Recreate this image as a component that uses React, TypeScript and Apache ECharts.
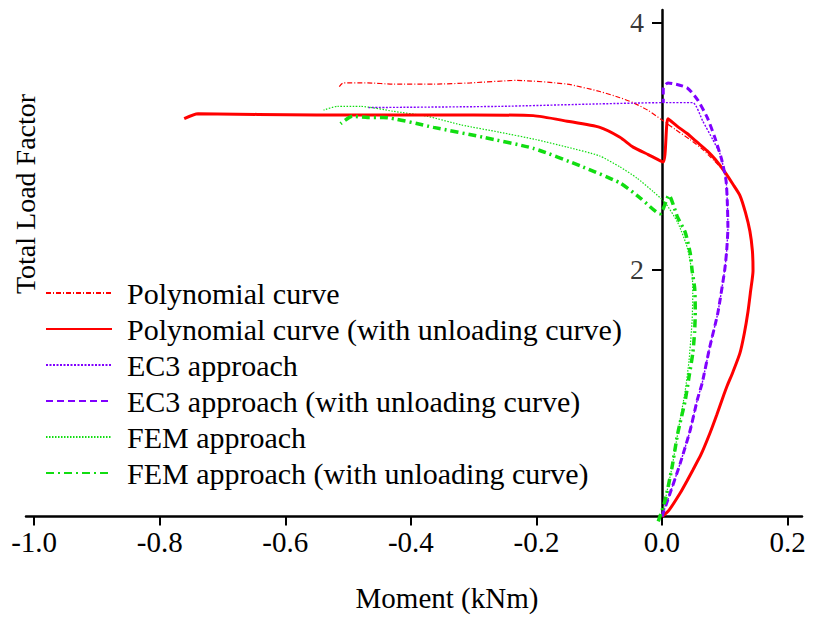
import React, { useEffect, useRef } from "react";
import * as echarts from "echarts";

type Pt = [number, number];

// Tick positions on the two axes
const xTicks = [-1.0, -0.8, -0.6, -0.4, -0.2, 0.0, 0.2];
const yTicks = [2, 4];

const seriesNames = [
  "Polynomial curve",
  "Polynomial curve (with unloading curve)",
  "EC3 approach",
  "EC3 approach (with unloading curve)",
  "FEM approach",
  "FEM approach (with unloading curve)",
];

// Polynomial model: common loading branch (moment, load factor)
const polyLoading: Pt[] = [
  [0, 0], [0.011, 0.05], [0.029, 0.19], [0.04, 0.29], [0.049, 0.375], [0.062, 0.5],
  [0.076, 0.67], [0.087, 0.82], [0.096, 0.95], [0.104, 1.06], [0.113, 1.17],
  [0.124, 1.32], [0.131, 1.48], [0.137, 1.66], [0.141, 1.82], [0.145, 1.99],
  [0.144, 2.15], [0.14, 2.31], [0.133, 2.46], [0.124, 2.6], [0.113, 2.69], [0.1, 2.79],
];
// Polynomial model without unloading
const polyUpper: Pt[] = [
  [0.083, 2.88], [0.065, 2.97], [0.045, 3.05], [0.022, 3.13], [0, 3.21],
  [-0.023, 3.29], [-0.046, 3.35], [-0.067, 3.39], [-0.099, 3.44], [-0.151, 3.5],
  [-0.231, 3.53], [-0.305, 3.51], [-0.364, 3.5], [-0.428, 3.5], [-0.469, 3.51],
  [-0.508, 3.51], [-0.514, 3.48],
];
// Polynomial model with unloading
const polyUnload: Pt[] = [
  [0.085, 2.89], [0.072, 2.96], [0.056, 3.03], [0.04, 3.1], [0.024, 3.16],
  [0.0095, 3.22], [0.002, 2.87], [-0.022, 2.93], [-0.046, 2.99], [-0.067, 3.07],
  [-0.099, 3.15], [-0.151, 3.2], [-0.205, 3.245], [-0.3, 3.25], [-0.417, 3.25],
  [-0.55, 3.25], [-0.739, 3.26], [-0.761, 3.22],
];

// EC3 approach: common loading branch
const ec3Loading: Pt[] = [
  [0, 0], [0.013, 0.19], [0.029, 0.43], [0.045, 0.7], [0.056, 0.94], [0.064, 1.08],
  [0.076, 1.37], [0.089, 1.65], [0.1, 2.0], [0.103, 2.15], [0.105, 2.34],
  [0.104, 2.55], [0.102, 2.72], [0.095, 2.89],
];
const ec3Upper: Pt[] = [
  [0.092, 2.94], [0.081, 3.05], [0.065, 3.2], [0.049, 3.35], [0.002, 3.35],
  [-0.1, 3.34], [-0.258, 3.32], [-0.469, 3.31],
];
const ec3Unload: Pt[] = [
  [0.084, 3.07], [0.072, 3.23], [0.057, 3.37], [0.04, 3.47], [0.0095, 3.51],
  [0.002, 3.47], [0.002, 3.35],
];

// FEM approach
const femCurve: Pt[] = [
  [0, 0], [0.005, 0.13], [0.016, 0.4], [0.025, 0.67], [0.037, 1.02], [0.043, 1.26],
  [0.048, 1.59], [0.049, 1.8], [0.048, 1.97], [0.04, 2.18], [0.025, 2.38],
  [0.005, 2.54], [-0.014, 2.63], [-0.04, 2.74], [-0.067, 2.83], [-0.1, 2.92],
  [-0.151, 2.99], [-0.2, 3.05], [-0.258, 3.11], [-0.32, 3.17], [-0.374, 3.24],
  [-0.428, 3.28], [-0.48, 3.32], [-0.517, 3.32], [-0.539, 3.29],
];
const femUnload: Pt[] = [
  [-0.006, -0.04], [0.005, 0.13], [0.016, 0.4], [0.025, 0.67], [0.037, 0.94],
  [0.043, 1.13], [0.049, 1.32], [0.052, 1.5], [0.053, 1.67], [0.052, 1.85],
  [0.048, 1.99], [0.045, 2.13], [0.037, 2.3], [0.025, 2.42], [0.011, 2.6],
  [-0.003, 2.45], [-0.035, 2.58], [-0.067, 2.7], [-0.126, 2.83], [-0.205, 2.98],
  [-0.285, 3.07], [-0.364, 3.15], [-0.444, 3.23], [-0.469, 3.23], [-0.493, 3.24],
  [-0.512, 3.18],
];

const seriesData: Pt[][] = [
  [...polyLoading, ...polyUpper],
  [...polyLoading, ...polyUnload],
  [...ec3Loading, ...ec3Upper],
  [...ec3Loading, ...ec3Unload],
  femCurve,
  femUnload,
];

const RED = "#ff0000";
const VIOLET = "#8000ff";
const GREEN = "#11dd11";

const lineStyles = [
  { color: RED, width: 1.2, type: [5, 2, 1, 2] },
  { color: RED, width: 3, type: "solid" },
  { color: VIOLET, width: 1.4, type: [2, 1.5] },
  { color: VIOLET, width: 3, type: [7, 4] },
  { color: GREEN, width: 1.2, type: [1.5, 1.5] },
  { color: GREEN, width: 3.5, type: [8, 4, 2, 4] },
];

const FONT = "Liberation Serif";

export default function App() {
  const ref = useRef<HTMLDivElement>(null);

  useEffect(() => {
    if (!ref.current) return;
    const chart = echarts.init(ref.current, null, { renderer: "svg" });
    chart.setOption({
      animation: false,
      backgroundColor: "#ffffff",
      grid: { left: 26, right: 12, top: 10, bottom: 102.5, containLabel: false },
      legend: {
        orient: "vertical",
        left: 40,
        top: 273,
        itemWidth: 66,
        itemHeight: 14,
        itemGap: 6,
        data: seriesNames,
        itemStyle: { opacity: 0 },
        textStyle: {
          fontFamily: FONT,
          fontSize: 30,
          color: "#000",
          lineHeight: 30,
          padding: [0, 0, 0, 10],
        },
      },
      xAxis: {
        type: "value",
        min: -1.013,
        max: 0.223,
        axisLine: { onZero: true, lineStyle: { color: "#000", width: 2.5 } },
        axisTick: { show: true, length: 9, lineStyle: { color: "#000", width: 2 }, customValues: xTicks },
        axisLabel: {
          customValues: xTicks,
          formatter: (v: number) => v.toFixed(1),
          fontFamily: FONT,
          fontSize: 29,
          color: "#000",
          margin: 11,
        },
        splitLine: { show: false },
      },
      yAxis: {
        type: "value",
        min: 0,
        max: 4.1,
        axisLine: { onZero: true, lineStyle: { color: "#000", width: 2.5 } },
        axisTick: { show: true, length: 10, lineStyle: { color: "#000", width: 2 }, customValues: yTicks },
        axisLabel: { show: false },
        splitLine: { show: false },
      },
      graphic: [
        {
          type: "text",
          x: 447,
          y: 598,
          style: {
            text: "Moment (kNm)",
            font: `29px "${FONT}"`,
            fill: "#000",
            align: "center",
            verticalAlign: "middle",
            textAlign: "center",
            textVerticalAlign: "middle",
          },
        },
        {
          type: "text",
          x: 25,
          y: 194,
          rotation: Math.PI / 2,
          style: {
            text: "Total Load Factor",
            font: `28px "${FONT}"`,
            fill: "#000",
            align: "center",
            verticalAlign: "middle",
            textAlign: "center",
            textVerticalAlign: "middle",
          },
        },
      ],
      series: [
        ...seriesNames.map((name, i) => ({
          name,
          type: "line",
          data: seriesData[i],
          symbol: "none",
          showSymbol: false,
          smooth: 0.2,
          clip: false,
          z: i % 2 === 0 ? 2 : 3,
          lineStyle: lineStyles[i],
          itemStyle: { color: lineStyles[i].color },
        })),
        {
          // tick labels of the load-factor axis, placed beside the axis at zero moment
          name: "yTickLabels",
          type: "scatter",
          silent: true,
          symbolSize: 0,
          data: yTicks.map((v) => [0, v]),
          label: {
            show: true,
            position: "left",
            distance: 18,
            formatter: (p: any) => String(p.value[1]),
            fontFamily: FONT,
            fontSize: 28,
            color: "#000",
          },
          z: 1,
        },
      ],
    });
    return () => chart.dispose();
  }, []);

  return (
    <div
      ref={ref}
      style={{ position: "absolute", left: 0, top: 0, width: 814, height: 619 }}
    />
  );
}
